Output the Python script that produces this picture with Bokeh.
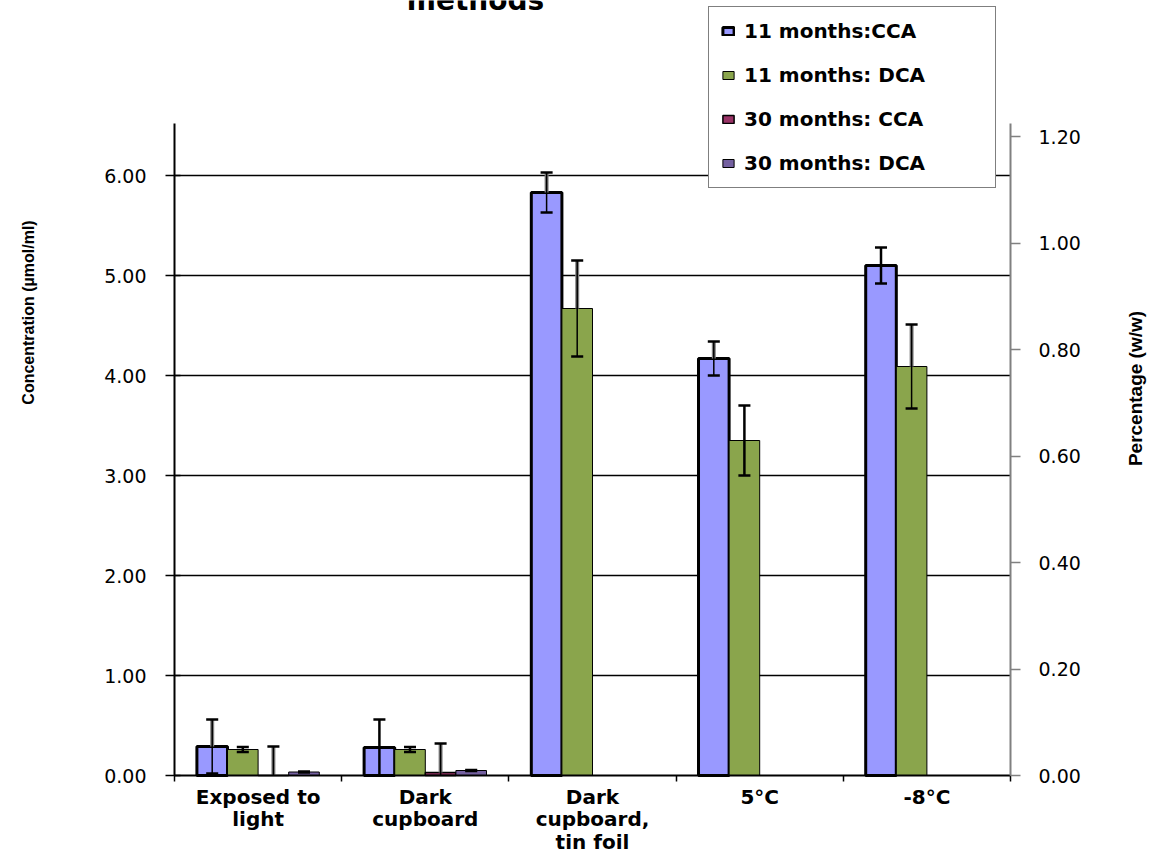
from bokeh.plotting import figure
from bokeh.models import (Range1d, LinearAxis, FixedTicker, NumeralTickFormatter,
                          Legend, LegendItem, Label)
from bokeh.embed import file_html
from bokeh.resources import INLINE
import math

# ---- data -------------------------------------------------------------
categories = ["Exposed to\nlight", "Dark\ncupboard", "Dark\ncupboard,\ntin foil", "5°C", "-8°C"]
series_names = ["11 months:CCA", "11 months: DCA", "30 months: CCA", "30 months: DCA"]

cca_11 = [0.29, 0.28, 5.83, 4.17, 5.10]
cca_11_err = [0.27, 0.28, 0.20, 0.17, 0.18]
dca_11 = [0.26, 0.26, 4.67, 3.35, 4.09]
dca_11_err = [0.025, 0.025, 0.48, 0.35, 0.42]
cca_30 = [0.0, 0.03, None, None, None]
cca_30_err = [0.29, 0.29, None, None, None]
dca_30 = [0.035, 0.05, None, None, None]
dca_30_err = [0.005, 0.005, None, None, None]

conc_ticks = [0, 1, 2, 3, 4, 5, 6]
pct_ticks = [0.0, 0.2, 0.4, 0.6, 0.8, 1.0, 1.2]

# ---- styling ----------------------------------------------------------
fills = ["#9999FF", "#8AA54C", "#993366", "#7460A0"]
outline_widths = [3, 1, 1.5, 1]
# upper half of each error bar: grey band or plain black
stem_styles = [
    ["grey", "black", "grey", "grey", "black"],
    ["black", "black", "grey", "black", "grey"],
    ["grey", "grey"],
    ["black", "black"],
]

values = [cca_11, dca_11, cca_30, dca_30]
errors = [cca_11_err, dca_11_err, cca_30_err, dca_30_err]

# ---- geometry ---------------------------------------------------------
W, H = 1157, 854
PLOT_L, PLOT_R = 174, 1010            # pixel extent of the category area
BASE = 775                            # pixel row of the zero line
n_cat = len(categories)
px_per_cat = (PLOT_R - PLOT_L) / n_cat
px_per_unit = 100.0
conc_top = 6.52                       # upper end of the drawn concentration axis
pct_per_conc = 1.2 / 6.39             # right-hand scale factor

def px_x(px):
    return (px - PLOT_L) / px_per_cat

def px_y(px):
    return (BASE - px) / px_per_unit

p = figure(width=W, height=H,
           x_range=Range1d(px_x(0), px_x(W)), y_range=Range1d(px_y(H), px_y(0)),
           output_backend="svg", toolbar_location=None,
           min_border_left=0, min_border_right=0,
           min_border_top=0, min_border_bottom=0)
p.outline_line_color = None
p.background_fill_color = "white"
p.border_fill_color = "white"
p.xgrid.visible = False
p.ygrid.visible = False

# horizontal grid lines across the category area only
grid_levels = [t for t in conc_ticks if t > 0]
p.segment(x0=[0] * len(grid_levels), y0=grid_levels, x1=[n_cat] * len(grid_levels),
          y1=grid_levels, line_color="black", line_width=1.5)

bar_w = 0.183
offsets = [(-1.5 + k) * bar_w for k in range(4)]
cap_half = 0.036

renderers = []
for s in range(4):
    xs, tops = [], []
    for c in range(n_cat):
        if values[s][c] is None:
            continue
        xs.append(c + 0.5 + offsets[s])
        tops.append(values[s][c])
    r = p.vbar(x=xs, top=tops, bottom=0, width=bar_w, fill_color=fills[s],
               line_color="black", line_width=outline_widths[s])
    renderers.append(r)

# error bars (stems stop at the zero line)
for s in range(4):
    xs, v, lo, hi, sty = [], [], [], [], []
    k = 0
    for c in range(n_cat):
        if values[s][c] is None:
            continue
        xs.append(c + 0.5 + offsets[s])
        v.append(values[s][c])
        lo.append(values[s][c] - errors[s][c])
        hi.append(values[s][c] + errors[s][c])
        sty.append(stem_styles[s][k])
        k += 1
    lo_clip = [max(a, 0.0) for a in lo]
    grey = [i for i, st in enumerate(sty) if st == "grey"]
    black = [i for i, st in enumerate(sty) if st == "black"]
    if grey:
        p.segment(x0=[xs[i] for i in grey], y0=[v[i] for i in grey],
                  x1=[xs[i] for i in grey], y1=[hi[i] for i in grey],
                  line_color="#808080", line_width=4)
        p.segment(x0=[xs[i] for i in grey], y0=[lo_clip[i] for i in grey],
                  x1=[xs[i] for i in grey], y1=[hi[i] for i in grey],
                  line_color="black", line_width=1.5)
    if black:
        p.segment(x0=[xs[i] for i in black], y0=[lo_clip[i] for i in black],
                  x1=[xs[i] for i in black], y1=[hi[i] for i in black],
                  line_color="black", line_width=2.5)
    p.segment(x0=[x - cap_half for x in xs], y0=hi, x1=[x + cap_half for x in xs], y1=hi,
              line_color="black", line_width=2.5)
    low = [i for i in range(len(xs)) if lo[i] > 0]
    if low:
        p.segment(x0=[xs[i] - cap_half for i in low], y0=[lo[i] for i in low],
                  x1=[xs[i] + cap_half for i in low], y1=[lo[i] for i in low],
                  line_color="black", line_width=2.5)

# ---- axes -------------------------------------------------------------
xa = p.xaxis[0]
xa.fixed_location = 0
xa.bounds = (0, n_cat)
xa.ticker = FixedTicker(ticks=[c + 0.5 for c in range(n_cat)],
                        minor_ticks=list(range(n_cat + 1)))
xa.major_label_overrides = {c + 0.5: categories[c] for c in range(n_cat)}
xa.major_tick_out = 0
xa.major_tick_in = 0
xa.minor_tick_out = 6
xa.minor_tick_in = 0
xa.minor_tick_line_color = "black"
xa.minor_tick_line_width = 1.5
xa.axis_line_color = "black"
xa.axis_line_width = 2
xa.major_label_standoff = 3
xa.major_label_text_font = "DejaVu Sans"
xa.major_label_text_font_style = "bold"
xa.major_label_text_font_size = "20px"
xa.major_label_text_line_height = 0.95
xa.major_label_text_color = "black"

ya = p.yaxis[0]
ya.fixed_location = 0
ya.ticker = FixedTicker(ticks=conc_ticks, minor_ticks=[])
ya.formatter = NumeralTickFormatter(format="0.00")
ya.bounds = (0, conc_top)
ya.axis_line_color = "black"
ya.axis_line_width = 2
ya.major_tick_in = 6
ya.major_tick_out = 9
ya.major_tick_line_color = "black"
ya.major_tick_line_width = 1.5
ya.minor_tick_line_color = None
ya.major_label_standoff = 19
ya.major_label_text_font = "DejaVu Sans"
ya.major_label_text_font_size = "19px"
ya.major_label_text_color = "black"

p.extra_y_ranges = {"pct": Range1d(px_y(H) * pct_per_conc, px_y(0) * pct_per_conc)}
ra = LinearAxis(y_range_name="pct", fixed_location=n_cat,
                ticker=FixedTicker(ticks=pct_ticks, minor_ticks=[]),
                formatter=NumeralTickFormatter(format="0.00"))
ra.bounds = (0, conc_top * pct_per_conc)
ra.axis_line_color = "#808080"
ra.axis_line_width = 2
ra.major_tick_in = 0
ra.major_tick_out = 10
ra.major_tick_line_color = "#808080"
ra.major_tick_line_width = 1.5
ra.minor_tick_line_color = None
ra.major_label_standoff = 18
ra.major_label_text_font = "DejaVu Sans"
ra.major_label_text_font_size = "19px"
ra.major_label_text_color = "black"
p.add_layout(ra, "right")

# ---- titles -----------------------------------------------------------
p.add_layout(Label(x=px_x(475), y=px_y(0), text="methods", text_align="center",
                   text_baseline="alphabetic", text_font="DejaVu Sans",
                   text_font_style="bold", text_font_size="28px", text_color="black"))
p.add_layout(Label(x=px_x(28), y=px_y(312), text="Concentration (µmol/ml)",
                   angle=math.pi / 2, text_align="center", text_baseline="middle",
                   text_font="Liberation Sans", text_font_style="bold",
                   text_font_size="16px", text_color="black"))
p.add_layout(Label(x=px_x(1135), y=px_y(388), text="Percentage (w/w)",
                   angle=math.pi / 2, text_align="center", text_baseline="middle",
                   text_font="Liberation Sans", text_font_style="bold",
                   text_font_size="19px", text_color="black"))

# ---- legend -----------------------------------------------------------
legend = Legend(items=[LegendItem(label=series_names[s], renderers=[renderers[s]]) for s in range(4)],
                location=(708, (H - 188)),
                padding=12, spacing=20, margin=0,
                glyph_width=14, glyph_height=10, label_height=23, label_width=239,
                label_standoff=9, border_line_color="black", border_line_width=1,
                background_fill_color="white", background_fill_alpha=1.0,
                label_text_font="DejaVu Sans", label_text_font_style="bold",
                label_text_font_size="20px", label_text_color="black")
p.add_layout(legend)

open("out.html", "w").write(file_html(p, INLINE))
